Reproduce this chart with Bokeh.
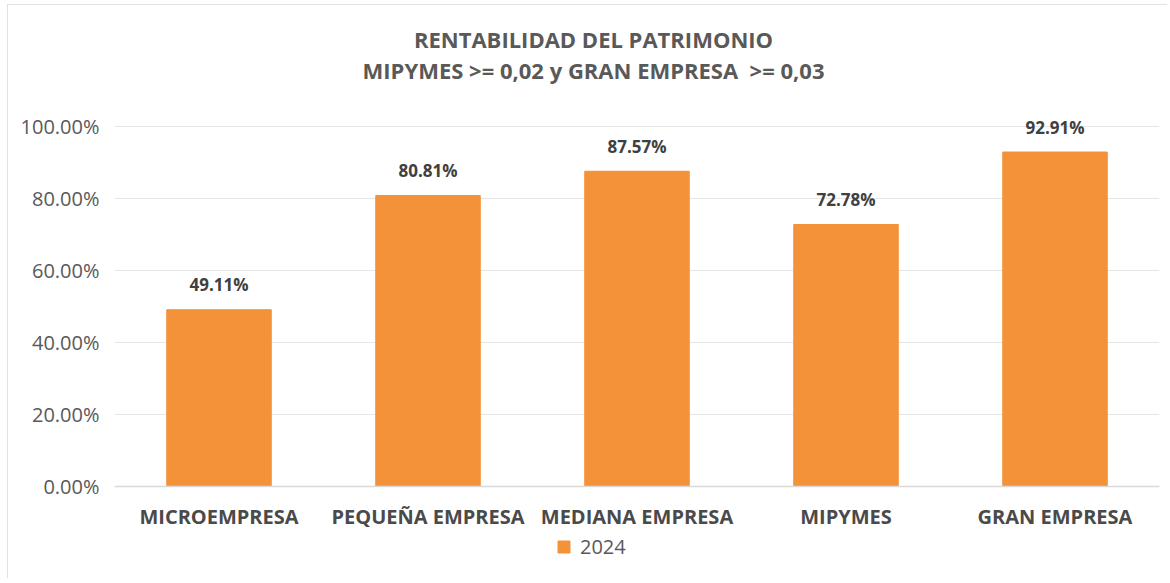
from bokeh.plotting import figure
from bokeh.models import (ColumnDataSource, LabelSet, Label, Legend, LegendItem,
                          NumeralTickFormatter, FactorRange, Range1d, Span)
from bokeh.core.properties import value
from bokeh.embed import file_html
from bokeh.resources import INLINE

categories = ["MICROEMPRESA", "PEQUEÑA EMPRESA", "MEDIANA EMPRESA", "MIPYMES", "GRAN EMPRESA"]
values_2024 = [0.4911, 0.8081, 0.8757, 0.7278, 0.9291]
value_labels = ["49.11%", "80.81%", "87.57%", "72.78%", "92.91%"]
series_name = "2024"
title_lines = ["RENTABILIDAD DEL PATRIMONIO", "MIPYMES >= 0,02 y GRAN EMPRESA \u00a0>= 0,03"]
y_ticks = [0, 0.2, 0.4, 0.6, 0.8, 1.0]

FONT = "Open Sans"
BAR = "#F39238"

src = ColumnDataSource(dict(cat=categories, val=values_2024, lab=value_labels,
                            zero=[0] * len(categories)))

p = figure(width=1160, height=574, x_range=FactorRange(*categories, range_padding=0),
           y_range=Range1d(-0.2444, 1.3194), output_backend="svg", toolbar_location=None,
           min_border_left=107, min_border_right=8, min_border_top=7, min_border_bottom=4)
p.styles = {"outline": "1px solid #d9d9d9", "outline-offset": "-1px",
            "margin-left": "7px", "margin-top": "4px"}
p.outline_line_color = None
p.background_fill_color = "white"
p.border_fill_color = "white"

r = p.vbar(x="cat", top="val", width=0.5, source=src, color=BAR)

p.yaxis.ticker = y_ticks
p.yaxis.formatter = NumeralTickFormatter(format="0.00%")
p.yaxis.axis_line_color = None
p.yaxis.major_tick_line_color = None
p.yaxis.minor_tick_line_color = None
p.yaxis.major_label_text_font = FONT
p.yaxis.major_label_text_font_size = "20px"
p.yaxis.major_label_text_color = "#595959"
p.yaxis.major_label_standoff = 9

p.xaxis.visible = False
p.xgrid.grid_line_color = None
p.ygrid.grid_line_color = "#e6e6e6"
p.ygrid.grid_line_width = 1

p.add_layout(Span(location=0, dimension="width", line_color="#d9d9d9", line_width=1.5))

cat_labels = LabelSet(x="cat", y="zero", text="cat", source=src, y_offset=-30,
                      text_align="center", text_baseline="middle", text_font=value(FONT),
                      text_font_size=value("20px"), text_font_style=value("bold"),
                      text_color=value("#4a4a4a"))
p.add_layout(cat_labels)

labels = LabelSet(x="cat", y="val", text="lab", source=src, y_offset=25,
                  text_align="center", text_baseline="middle", text_font=value(FONT),
                  text_font_size=value("17px"), text_font_style=value("bold"),
                  text_color=value("#404040"))
p.add_layout(labels)

for txt, yy in zip(title_lines, [1.244, 1.156]):
    p.add_layout(Label(x=2.292, y=yy, text=txt, text_align="center", text_baseline="middle",
                       text_font=FONT, text_font_size="22px", text_font_style="bold",
                       text_color="#595959"))

legend = Legend(items=[LegendItem(label=series_name, renderers=[r])],
                location=(442, 14), orientation="horizontal",
                glyph_width=15, glyph_height=15, label_height=15, label_standoff=9,
                padding=0, margin=0, border_line_color=None, background_fill_alpha=0,
                label_text_font=FONT, label_text_font_size="20px", label_text_color="#595959")
p.add_layout(legend, "center")

open("out.html", "w").write(file_html(p, INLINE))
